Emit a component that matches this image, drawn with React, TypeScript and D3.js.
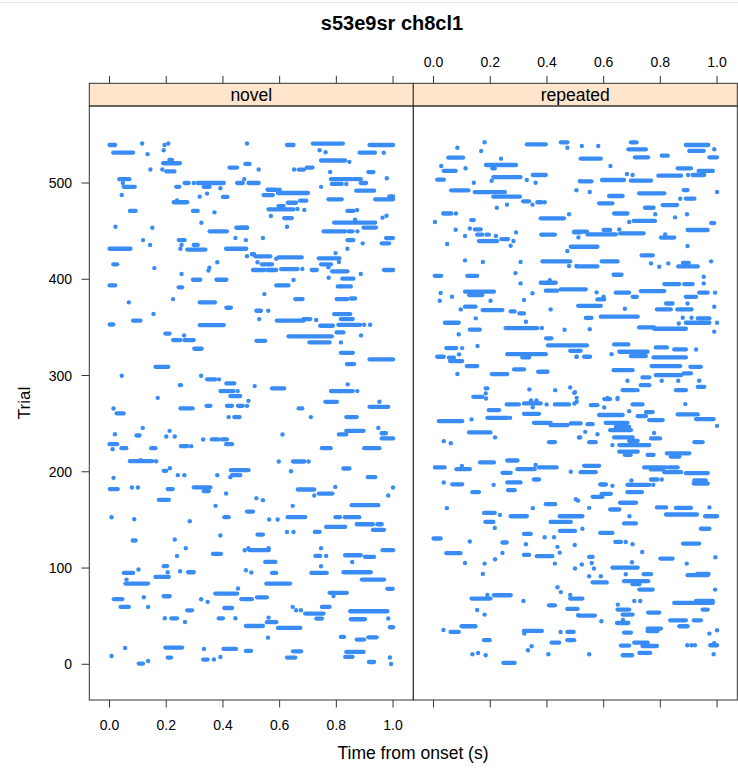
import React from 'react';
import * as d3 from 'd3';

// raster of spike times per trial; each entry is [trial, start, end] in seconds,
// a single spike has start == end, a burst of close spikes is one run
const panelNames = ['novel', 'repeated'];
const timeTicks = [0, 0.2, 0.4, 0.6, 0.8, 1.0];
const trialTicks = [0, 100, 200, 300, 400, 500];

const novelSpikes = [
  [539.5, 0.0, 0.02], [531.5, 0.013, 0.083], [541, 0.115, 0.115], [530, 0.134, 0.134], [539.5, 0.194, 0.194],
  [541, 0.207, 0.207], [534, 0.191, 0.191], [524, 0.211, 0.22], [520.5, 0.189, 0.248], [512, 0.2, 0.229],
  [514, 0.144, 0.144], [514, 0.186, 0.186], [504, 0.034, 0.07], [500, 0.047, 0.047], [496, 0.05, 0.089],
  [487.5, 0.043, 0.043], [471, 0.072, 0.092], [454.6, 0.021, 0.021], [453.5, 0.151, 0.151], [431.7, 0.0, 0.074],
  [415.5, 0.013, 0.027], [440.7, 0.118, 0.118], [435.6, 0.143, 0.143], [411.6, 0.158, 0.158], [393.6, 0.0, 0.02],
  [376, 0.068, 0.068], [357, 0.083, 0.109], [364, 0.155, 0.155], [353, 0.001, 0.013], [343.6, 0.197, 0.212],
  [336.8, 0.224, 0.25], [341.7, 0.263, 0.263], [336.8, 0.264, 0.297], [327.8, 0.299, 0.325], [309, 0.162, 0.207],
  [299.7, 0.043, 0.043], [299.7, 0.323, 0.323], [296, 0.344, 0.373], [296, 0.386, 0.386], [290, 0.248, 0.252],
  [276.8, 0.17, 0.17], [291.8, 0.412, 0.44], [283.8, 0.391, 0.438], [278.6, 0.426, 0.461], [283.8, 0.452, 0.452],
  [496, 0.235, 0.246], [500, 0.265, 0.279], [500, 0.297, 0.297], [500, 0.311, 0.403], [496, 0.332, 0.353],
  [489, 0.344, 0.344], [494.5, 0.391, 0.391], [485.8, 0.318, 0.318], [485.5, 0.4, 0.416], [480, 0.226, 0.274],
  [482, 0.238, 0.238], [471, 0.294, 0.311], [469.5, 0.37, 0.37], [458.7, 0.324, 0.324], [449.8, 0.353, 0.414],
  [453.5, 0.447, 0.485], [442.8, 0.444, 0.444], [440.7, 0.481, 0.481], [440.7, 0.244, 0.265], [435.6, 0.254, 0.254],
  [431.7, 0.25, 0.25], [435.6, 0.297, 0.311], [430.8, 0.274, 0.338], [431.7, 0.411, 0.482], [409, 0.349, 0.349],
  [412, 0.352, 0.352], [417.6, 0.38, 0.38], [405.4, 0.254, 0.254], [399.5, 0.294, 0.32], [399.5, 0.377, 0.412],
  [391.6, 0.244, 0.256], [379.4, 0.224, 0.224], [376, 0.318, 0.372], [370.4, 0.412, 0.428], [352.4, 0.318, 0.403],
  [541, 0.485, 0.485], [516, 0.423, 0.45], [519.8, 0.479, 0.494], [500, 0.45, 0.47], [504, 0.475, 0.475],
  [500, 0.49, 0.526], [424, 0.485, 0.485],
  [539.5, 0.626, 0.649], [541, 0.717, 0.823], [539.5, 0.917, 1.0], [534, 0.741, 0.741], [532, 0.762, 0.762],
  [531.5, 0.882, 0.936], [531.5, 0.967, 0.967], [514, 0.526, 0.526], [514, 0.651, 0.651], [514, 0.667, 0.686],
  [516, 0.696, 0.716], [523.4, 0.746, 0.831], [522, 0.846, 0.846], [511.4, 0.778, 0.778], [511.4, 0.913, 0.931],
  [504, 0.781, 0.854], [504, 0.864, 0.886], [505, 0.978, 0.978], [499, 0.784, 0.819], [499, 0.835, 0.835],
  [500, 0.886, 0.905], [496, 0.746, 0.746], [493, 0.557, 0.588], [493, 0.6, 0.6], [487.5, 0.543, 0.576],
  [489.6, 0.594, 0.7], [492, 0.87, 0.933], [483, 0.772, 0.819], [483, 0.937, 1.0], [486, 0.987, 1.0],
  [479.5, 0.629, 0.658], [481.6, 0.672, 0.694], [472.6, 0.561, 0.649], [476, 0.596, 0.614], [473, 0.663, 0.663],
  [472, 0.687, 0.687], [471, 0.839, 0.86], [472, 0.873, 0.873], [465.7, 0.569, 0.569], [463.6, 0.616, 0.643],
  [454.6, 0.626, 0.626], [458.9, 0.792, 0.937], [462, 0.866, 0.866], [453.7, 0.896, 0.94], [464, 0.963, 0.963],
  [466, 0.977, 0.977], [453.6, 0.461, 0.485], [449.8, 0.755, 0.831], [449.8, 0.843, 0.857], [449.8, 0.874, 0.874],
  [442.8, 0.541, 0.541], [440.7, 0.839, 0.86], [437.3, 0.893, 0.893], [442.8, 0.975, 1.0], [437.3, 0.96, 0.986],
  [431.7, 0.839, 0.839], [427.2, 0.797, 0.797], [426, 0.502, 0.51], [423.8, 0.514, 0.567], [421.3, 0.588, 0.588],
  [422.7, 0.596, 0.678], [421.7, 0.738, 0.811], [417.6, 0.522, 0.522], [415.5, 0.537, 0.573], [415.5, 0.746, 0.781],
  [418, 0.809, 0.809], [409.6, 0.506, 0.546], [409.6, 0.557, 0.588], [410.6, 0.605, 0.663], [410.6, 0.68, 0.68],
  [409.6, 0.713, 0.731], [412.4, 0.772, 0.772], [408.2, 0.785, 0.839], [409.6, 0.968, 1.0], [405.4, 0.886, 0.886],
  [401.6, 0.773, 0.773], [400.6, 0.821, 0.86], [399.2, 0.649, 0.649], [393.6, 0.588, 0.631], [392.6, 0.805, 0.851],
  [384.6, 0.546, 0.546], [379.4, 0.655, 0.681], [379.4, 0.801, 0.839], [380, 0.851, 0.866], [367.3, 0.518, 0.534],
  [367.3, 0.56, 0.56], [363.8, 0.792, 0.849], [358.6, 0.528, 0.528], [357, 0.59, 0.684], [358.6, 0.684, 0.708],
  [357.6, 0.729, 0.729], [358.6, 0.816, 0.858], [351.7, 0.743, 0.788], [352.7, 0.807, 0.884], [352.7, 0.898, 0.898],
  [352.7, 0.919, 0.919], [344.8, 0.801, 0.825], [340.7, 0.631, 0.784], [341.7, 0.887, 0.887], [336, 0.518, 0.549],
  [334.4, 0.705, 0.776], [334.4, 0.816, 0.816], [323.6, 0.816, 0.858], [316.7, 0.917, 1.0], [311.9, 0.837, 0.863],
  [289, 0.512, 0.512], [286.6, 0.573, 0.616], [283.8, 0.781, 0.858], [290.8, 0.84, 0.84], [283.8, 0.874, 0.874],
  [265.8, 0.014, 0.014], [260.6, 0.025, 0.05], [265.8, 0.25, 0.293], [268.5, 0.342, 0.356], [268.5, 0.414, 0.432],
  [268.5, 0.453, 0.47], [268.5, 0.485, 0.485], [273.7, 0.49, 0.49], [256.8, 0.42, 0.42], [256.8, 0.44, 0.459],
  [245.6, 0.117, 0.117], [239, 0.019, 0.019], [237.7, 0.095, 0.106], [242.5, 0.212, 0.212], [236.7, 0.2, 0.2],
  [236.7, 0.23, 0.23], [233.6, 0.33, 0.33], [233.6, 0.361, 0.385], [233.6, 0.397, 0.414], [228.7, 0.411, 0.432],
  [228.7, 0.0, 0.027], [223.5, 0.011, 0.011], [224.5, 0.042, 0.059], [224.5, 0.147, 0.162], [226.6, 0.252, 0.274],
  [226.6, 0.288, 0.288], [211, 0.072, 0.15], [212, 0.11, 0.11], [211, 0.164, 0.164], [201, 0.191, 0.2],
  [203.7, 0.213, 0.213], [196.5, 0.241, 0.241], [196.5, 0.264, 0.264], [201.7, 0.428, 0.49], [196.5, 0.432, 0.461],
  [194.4, 0.426, 0.426], [196.5, 0.38, 0.38], [193.7, 0.014, 0.014], [182, 0.001, 0.029], [183.7, 0.079, 0.079],
  [183.7, 0.1, 0.1], [182, 0.205, 0.223], [183.7, 0.297, 0.356], [179.8, 0.332, 0.35], [177.4, 0.411, 0.411],
  [170.8, 0.174, 0.209], [164.6, 0.374, 0.374], [152.8, 0.007, 0.007], [150.7, 0.087, 0.087], [148.6, 0.283, 0.283],
  [152.8, 0.405, 0.42], [158.7, 0.485, 0.506], [133.8, 0.391, 0.391], [128.6, 0.082, 0.092], [129.7, 0.23, 0.23],
  [120.6, 0.269, 0.269], [112.6, 0.238, 0.238], [114.7, 0.365, 0.393], [118.5, 0.477, 0.477], [118.5, 0.494, 0.561],
  [120.6, 0.49, 0.49], [120.6, 0.561, 0.561], [101.9, 0.191, 0.203], [95.6, 0.205, 0.205], [94.9, 0.05, 0.083],
  [98.4, 0.102, 0.102], [88, 0.06, 0.06], [83.9, 0.056, 0.136], [90.8, 0.162, 0.209], [96.7, 0.249, 0.249],
  [95.6, 0.277, 0.297], [97.7, 0.481, 0.481], [95.3, 0.5, 0.5], [73.5, 0.373, 0.45], [78.7, 0.453, 0.453],
  [67.6, 0.465, 0.502], [67.6, 0.015, 0.045], [69.6, 0.121, 0.121], [70.7, 0.191, 0.212], [67.6, 0.323, 0.323],
  [64.8, 0.346, 0.346], [59.6, 0.039, 0.068], [59.6, 0.136, 0.136], [58.5, 0.405, 0.432], [56.1, 0.274, 0.291],
  [39.8, 0.481, 0.541], [47.8, 0.195, 0.195], [47.8, 0.218, 0.238], [44, 0.266, 0.266], [47.8, 0.385, 0.4],
  [47.8, 0.444, 0.444], [17, 0.055, 0.055], [8.6, 0.007, 0.007], [0.7, 0.103, 0.118], [3.4, 0.136, 0.136],
  [17.4, 0.197, 0.256], [7, 0.205, 0.217], [16, 0.333, 0.333], [4.9, 0.33, 0.346], [4.9, 0.368, 0.368],
  [7.6, 0.391, 0.391], [16, 0.402, 0.446], [13.9, 0.481, 0.499],
  [272.7, 0.761, 0.802], [265.8, 0.667, 0.68], [256.8, 0.71, 0.71], [256.8, 0.835, 0.872], [267.5, 0.917, 0.983],
  [272.7, 0.952, 0.952], [238.8, 0.61, 0.61], [238.8, 0.809, 0.835], [242.5, 0.835, 0.896], [245.6, 0.948, 0.948],
  [234.6, 0.96, 1.0], [240, 0.96, 0.975], [224.5, 0.749, 0.78], [224.5, 0.898, 0.952], [210.7, 0.597, 0.597],
  [210.7, 0.647, 0.687], [210.7, 0.702, 0.702], [200.6, 0.64, 0.64], [203.4, 0.825, 0.846], [194.4, 0.911, 0.937],
  [181.6, 0.664, 0.722], [175.4, 0.722, 0.722], [177.4, 0.738, 0.786], [184.3, 0.796, 0.796], [183.7, 1.0, 1.0],
  [175.4, 0.983, 0.983], [172.6, 0.518, 0.518], [170.5, 0.541, 0.541], [164.6, 0.646, 0.646], [165.3, 0.854, 0.948],
  [150.4, 0.563, 0.563], [150.4, 0.593, 0.593], [152.8, 0.628, 0.69], [152.8, 0.797, 0.813], [152.8, 0.83, 0.881],
  [142.7, 0.764, 0.831], [145.5, 0.872, 0.929], [145.5, 0.945, 0.96], [139.6, 0.929, 0.968], [137.5, 0.626, 0.626],
  [137.5, 0.649, 0.649], [137.5, 0.724, 0.741], [134.8, 0.522, 0.541], [120.6, 0.746, 0.746], [112.6, 0.726, 0.743],
  [112.6, 0.764, 0.764], [113.3, 0.831, 0.886], [111.5, 0.901, 0.933], [106.3, 0.856, 0.856], [118.5, 0.963, 1.0],
  [106.3, 0.549, 0.585], [94.9, 0.573, 0.588], [94.9, 0.712, 0.766], [101.9, 0.746, 0.746], [95.6, 0.825, 0.921],
  [88, 0.89, 0.968], [83.9, 0.553, 0.637], [78.4, 0.98, 0.999], [69.6, 0.52, 0.555], [74.2, 0.776, 0.837],
  [71, 0.79, 0.79], [59.6, 0.646, 0.646], [56.1, 0.658, 0.658], [56.1, 0.675, 0.675], [59.6, 0.749, 0.776],
  [52.7, 0.69, 0.755], [47.5, 0.729, 0.749], [55.1, 0.849, 0.98], [46.8, 0.851, 0.901], [47.5, 0.983, 0.983],
  [43.7, 0.555, 0.588], [48.5, 0.561, 0.561], [37.8, 0.594, 0.673], [38.5, 0.989, 1.0], [27.7, 0.559, 0.559],
  [28.4, 0.816, 0.827], [25.7, 0.872, 0.898], [28, 0.913, 0.942], [13.5, 0.647, 0.676], [7, 0.626, 0.655],
  [12.8, 0.835, 0.896], [7.6, 0.831, 0.857], [2.4, 0.915, 0.933], [7, 0.989, 0.989], [0.3, 0.993, 0.993],
];

const repeatedSpikes = [
  [536.7, 0.084, 0.084], [542.3, 0.18, 0.18], [533.3, 0.168, 0.168], [540.2, 0.329, 0.396], [542.3, 0.449, 0.472],
  [536.7, 0.472, 0.472], [526.3, 0.052, 0.104], [525.3, 0.238, 0.238], [517.7, 0.027, 0.027], [512.5, 0.036, 0.078],
  [515.3, 0.113, 0.113], [518.7, 0.185, 0.291], [515.3, 0.207, 0.216], [506.2, 0.211, 0.307], [503.1, 0.329, 0.329],
  [508.3, 0.35, 0.396], [500.3, 0.36, 0.36], [503.5, 0.013, 0.036], [500.3, 0.142, 0.142], [502.4, 0.205, 0.205],
  [492.4, 0.062, 0.123], [490.6, 0.145, 0.252], [485.8, 0.211, 0.305], [474.3, 0.223, 0.223], [477.5, 0.259, 0.259],
  [481, 0.316, 0.337], [477.5, 0.349, 0.349], [480, 0.366, 0.38], [480, 0.392, 0.392], [492.4, 0.504, 0.504],
  [502, 0.516, 0.516], [468.3, 0.034, 0.063], [468.3, 0.079, 0.079], [459.5, 0.005, 0.005], [461.5, 0.133, 0.142],
  [452.8, 0.128, 0.128], [451.4, 0.078, 0.078], [451.8, 0.146, 0.166], [446.3, 0.154, 0.172], [446.3, 0.187, 0.195],
  [444.9, 0.111, 0.111], [439.7, 0.16, 0.225], [444.9, 0.22, 0.22], [441.8, 0.239, 0.263], [439.7, 0.282, 0.282],
  [434.8, 0.272, 0.272], [448.7, 0.291, 0.291], [436.6, 0.048, 0.048], [463.3, 0.378, 0.46], [467.5, 0.478, 0.478],
  [446.3, 0.38, 0.428], [448.7, 0.496, 0.519], [443.5, 0.511, 0.511], [433.8, 0.484, 0.578], [429.3, 0.472, 0.472],
  [419.6, 0.111, 0.111], [417.9, 0.174, 0.174], [417.9, 0.307, 0.307], [418.6, 0.384, 0.482], [413.7, 0.478, 0.478],
  [413.7, 0.504, 0.504], [406.4, 0.289, 0.289], [403.6, 0.004, 0.027], [403.6, 0.119, 0.154], [395.7, 0.307, 0.307],
  [396.4, 0.378, 0.431], [399, 0.41, 0.41], [388.1, 0.396, 0.437], [389.5, 0.449, 0.537], [385.4, 0.349, 0.349],
  [387.1, 0.111, 0.213], [383.6, 0.125, 0.172], [385.7, 0.025, 0.025], [377.7, 0.022, 0.022], [381.8, 0.065, 0.065],
  [377.7, 0.201, 0.201], [378.4, 0.319, 0.319], [371.5, 0.111, 0.148], [368.7, 0.096, 0.096], [368, 0.173, 0.243],
  [366.6, 0.272, 0.286], [364.5, 0.303, 0.319], [368.7, 0.413, 0.413], [359.4, 0.149, 0.149], [355.9, 0.326, 0.326],
  [354.8, 0.04, 0.089], [342.8, 0.089, 0.089], [347.6, 0.128, 0.163], [349.3, 0.254, 0.366], [349.3, 0.382, 0.382],
  [347.6, 0.462, 0.462], [338.6, 0.397, 0.416], [331.3, 0.404, 0.541], [325.7, 0.482, 0.519], [319.5, 0.504, 0.504],
  [328.5, 0.045, 0.08], [328.5, 0.101, 0.101], [330.6, 0.155, 0.155], [319.5, 0.013, 0.036], [318.5, 0.054, 0.072],
  [315, 0.058, 0.101], [322, 0.09, 0.09], [309.8, 0.117, 0.154], [301.5, 0.084, 0.084], [322.2, 0.26, 0.396],
  [318.8, 0.313, 0.337], [306.3, 0.284, 0.319], [301.5, 0.205, 0.26], [303.9, 0.369, 0.402], [277.9, 0.14, 0.172],
  [286.6, 0.184, 0.19], [281.4, 0.184, 0.184], [276.2, 0.185, 0.185], [285.6, 0.338, 0.338], [284.8, 0.429, 0.429],
  [287.6, 0.482, 0.482], [282.7, 0.499, 0.499],
  [538.5, 0.523, 0.523], [538.5, 0.581, 0.581], [542.3, 0.696, 0.716], [535, 0.687, 0.749], [539.5, 0.89, 0.969],
  [533.3, 0.902, 0.953], [535, 0.99, 0.99], [525.3, 0.519, 0.59], [526.7, 0.71, 0.757], [528.4, 0.805, 0.826],
  [526.7, 0.973, 1.0], [517.7, 0.624, 0.624], [509.4, 0.682, 0.682], [508.3, 0.702, 0.702], [507.6, 0.793, 0.873],
  [515.3, 0.861, 0.908], [508.3, 0.914, 0.955], [512.5, 0.935, 0.985], [508.3, 0.898, 0.898], [501.7, 0.517, 0.557],
  [503.1, 0.594, 0.672], [502.4, 0.696, 0.767], [490.6, 0.551, 0.551], [489.3, 0.725, 0.814], [492.7, 0.882, 0.896],
  [490.6, 1.0, 1.0], [486.5, 0.619, 0.667], [478.9, 0.584, 0.631], [483.7, 0.89, 0.92], [483.7, 0.87, 0.87],
  [474.3, 0.746, 0.776], [477.1, 0.808, 0.859], [467.5, 0.782, 0.782], [464.3, 0.852, 0.852], [467.5, 0.894, 0.894],
  [468.3, 0.637, 0.684], [460.6, 0.706, 0.781], [459.5, 0.69, 0.69], [458.4, 0.979, 0.99], [449.5, 0.496, 0.541],
  [446.6, 0.543, 0.643], [451.2, 0.6, 0.623], [451.8, 0.655, 0.655], [447.7, 0.658, 0.741], [451.2, 0.896, 0.967],
  [443.3, 0.802, 0.849], [446.6, 0.817, 0.817], [434.5, 0.896, 0.896], [424.8, 0.734, 0.773], [416.5, 0.767, 0.767],
  [413, 0.796, 0.796], [416.5, 0.828, 0.828], [413.3, 0.505, 0.578], [418.5, 0.593, 0.649], [413.3, 0.863, 0.932],
  [417, 0.88, 0.9], [418.6, 0.979, 0.979], [404.7, 0.635, 0.663], [402.6, 0.953, 0.953], [395.7, 0.953, 0.953],
  [395, 0.814, 0.867], [395, 0.884, 0.914], [386.4, 0.575, 0.575], [386.1, 0.643, 0.69], [387.7, 0.731, 0.814],
  [381.8, 0.89, 0.926], [386.1, 0.937, 0.967], [386.1, 0.993, 0.993], [379.1, 0.578, 0.602], [382, 0.6, 0.6],
  [381.8, 0.702, 0.717], [372.4, 0.51, 0.59], [374.8, 0.82, 0.843], [374.8, 0.896, 0.896], [369.4, 0.675, 0.675],
  [368.7, 0.788, 0.837], [368.7, 0.86, 0.86], [368.7, 0.867, 0.91], [371.5, 0.99, 0.99], [359.8, 0.537, 0.557],
  [361.1, 0.59, 0.72], [354.8, 0.89, 0.973], [359.4, 0.932, 0.973], [360, 0.879, 0.879], [360, 0.91, 0.91],
  [354.8, 1.0, 1.0], [354.1, 0.865, 0.865], [350, 0.725, 0.778], [348.6, 0.778, 0.89], [348, 0.551, 0.551],
  [345.6, 0.99, 0.99], [332.3, 0.637, 0.687], [324.7, 0.655, 0.755], [320.2, 0.696, 0.749], [329.2, 0.784, 0.823],
  [327.1, 0.849, 0.89], [327.1, 0.926, 0.926], [318.8, 0.776, 0.89], [322.2, 0.628, 0.628], [319.5, 0.505, 0.505],
  [319.5, 0.531, 0.552], [305.6, 0.635, 0.702], [309.8, 0.769, 0.87], [309, 0.906, 0.943], [302.2, 0.882, 0.908],
  [300.4, 0.784, 0.873], [298, 0.737, 0.761], [294.5, 0.684, 0.684], [294.5, 0.805, 0.805], [294.5, 0.863, 0.863],
  [294.5, 0.937, 0.937], [290, 0.731, 0.761], [284.8, 0.667, 0.708], [284.8, 0.719, 0.719], [284.8, 0.855, 0.89],
  [288.3, 0.932, 0.955], [282, 0.496, 0.496], [276.8, 0.505, 0.505], [276.8, 0.614, 0.614], [276.8, 0.649, 0.649],
  [270, 0.258, 0.301], [271, 0.319, 0.378], [274, 0.344, 0.344], [274, 0.363, 0.363], [267, 0.35, 0.35],
  [270, 0.399, 0.399], [270, 0.428, 0.478], [271, 0.497, 0.497], [264, 0.195, 0.231], [252.6, 0.019, 0.101],
  [254.4, 0.134, 0.134], [256, 0.19, 0.26], [256, 0.27, 0.27], [260.2, 0.319, 0.372], [250.9, 0.354, 0.413],
  [248.4, 0.413, 0.472], [250.2, 0.484, 0.519], [240.9, 0.125, 0.201], [235.7, 0.217, 0.217], [231.8, 0.036, 0.036],
  [229.7, 0.061, 0.061], [230.8, 0.407, 0.428], [235.7, 0.513, 0.513], [204.5, 0.005, 0.039], [202.7, 0.081, 0.128],
  [206, 0.1, 0.1], [209.7, 0.164, 0.213], [211.7, 0.26, 0.296], [198.9, 0.243, 0.272], [202.7, 0.296, 0.357],
  [207, 0.36, 0.36], [204.5, 0.372, 0.434], [200, 0.484, 0.484], [192, 0.354, 0.372], [188.9, 0.036, 0.036],
  [187, 0.066, 0.101], [188.9, 0.26, 0.307], [180.9, 0.263, 0.286], [186.4, 0.212, 0.212], [178.8, 0.137, 0.16],
  [162.2, 0.047, 0.047], [157.3, 0.178, 0.216], [155.2, 0.234, 0.234], [147.9, 0.183, 0.211], [141.7, 0.216, 0.216],
  [153.8, 0.272, 0.329], [162.2, 0.35, 0.35], [166.3, 0.396, 0.429], [153.8, 0.445, 0.525], [147.9, 0.413, 0.484],
  [138.6, 0.446, 0.499], [135.4, 0.319, 0.343], [132, 0.392, 0.392], [132, 0.425, 0.425], [130.7, 0.0, 0.025],
  [127.5, 0.128, 0.128], [126.5, 0.243, 0.258], [124.7, 0.326, 0.326], [122, 0.437, 0.437], [116, 0.445, 0.445],
  [124, 0.498, 0.498], [115.4, 0.045, 0.095], [115.7, 0.243, 0.243], [113.6, 0.319, 0.337], [112.3, 0.364, 0.419],
  [104.6, 0.428, 0.428], [105.3, 0.111, 0.111], [104.6, 0.18, 0.18], [109.1, 0.217, 0.217], [93.9, 0.174, 0.174],
  [99.5, 0.499, 0.499], [80, 0.437, 0.437], [75, 0.449, 0.449], [68.3, 0.134, 0.201], [72, 0.19, 0.19],
  [71.7, 0.213, 0.272], [65.8, 0.317, 0.317], [61.3, 0.407, 0.428], [68.3, 0.482, 0.525], [72, 0.482, 0.482],
  [57.5, 0.472, 0.508], [56.4, 0.154, 0.154], [51.6, 0.18, 0.18], [51, 0.51, 0.51], [35.7, 0.035, 0.035],
  [33.6, 0.06, 0.089], [39.5, 0.099, 0.148], [34.7, 0.319, 0.382], [32, 0.32, 0.32], [33.6, 0.448, 0.448],
  [33.6, 0.472, 0.494], [25, 0.472, 0.496], [25, 0.178, 0.198], [22.5, 0.416, 0.443], [14.6, 0.333, 0.333],
  [18.7, 0.346, 0.346], [10.4, 0.137, 0.137], [11.8, 0.157, 0.157], [9.4, 0.184, 0.184], [10.4, 0.405, 0.405],
  [1.4, 0.246, 0.286],
  [272.7, 0.505, 0.505], [275.5, 0.602, 0.623], [275.5, 0.649, 0.649], [269.2, 0.555, 0.578], [266.8, 0.602, 0.602],
  [270, 0.702, 0.737], [270.3, 0.888, 0.888], [262, 0.749, 0.773], [259, 0.584, 0.667], [263, 0.69, 0.69],
  [257.8, 0.72, 0.749], [253.6, 0.761, 0.808], [259.6, 0.861, 0.932], [254.7, 0.926, 0.988], [247.7, 1.0, 1.0],
  [249.5, 0.543, 0.561], [239, 0.578, 0.578], [250.9, 0.607, 0.684], [243.2, 0.623, 0.696], [246.7, 0.643, 0.69],
  [241.5, 0.535, 0.535], [235.7, 0.517, 0.517], [240.4, 0.778, 0.778], [234.6, 0.767, 0.799], [235.7, 0.637, 0.702],
  [230.8, 0.549, 0.572], [227.7, 0.655, 0.761], [232, 0.69, 0.72], [227.7, 0.631, 0.631], [230.8, 0.92, 0.949],
  [220.9, 0.655, 0.72], [217.5, 0.675, 0.695], [219.2, 0.823, 0.902], [215.7, 0.837, 0.867], [217.5, 0.755, 0.776],
  [206.2, 0.531, 0.584], [199.6, 0.519, 0.572], [204.5, 0.743, 0.82], [202.4, 0.767, 0.808], [204.5, 0.831, 0.861],
  [199.6, 0.814, 0.873], [198.5, 0.89, 0.967], [187.8, 0.918, 0.967], [191, 0.92, 0.96], [192, 0.767, 0.79],
  [192, 0.805, 0.805], [186.4, 0.684, 0.761], [191, 0.698, 0.698], [186.4, 0.775, 0.775], [186.8, 0.588, 0.608],
  [185.4, 0.631, 0.631], [178.8, 0.684, 0.735], [174, 0.561, 0.596], [177.1, 0.593, 0.625], [171.5, 0.502, 0.502],
  [167.8, 0.658, 0.714], [170, 0.51, 0.51], [162.5, 0.549, 0.549], [160.8, 0.623, 0.655], [163, 0.788, 0.82],
  [162.5, 0.855, 0.908], [163, 0.973, 0.973], [155.6, 0.82, 0.929], [153.8, 0.958, 1.0], [153.8, 0.691, 0.691],
  [146.3, 0.672, 0.714], [140.8, 0.525, 0.525], [136.5, 0.588, 0.631], [140.8, 0.943, 0.973], [127.1, 0.641, 0.661],
  [127.1, 0.678, 0.678], [124.7, 0.702, 0.702], [116.6, 0.736, 0.736], [125.4, 0.88, 0.937], [109.8, 0.8, 0.843],
  [111.2, 0.994, 0.994], [104.6, 0.893, 0.893], [103.6, 0.523, 0.523], [105.3, 0.558, 0.558], [99.5, 0.566, 0.566],
  [111.5, 0.549, 0.561], [100.5, 0.631, 0.72], [106, 0.7, 0.7], [91.5, 0.549, 0.549], [91.5, 0.59, 0.59],
  [85, 0.561, 0.611], [93.6, 0.741, 0.767], [93.6, 0.678, 0.678], [86.3, 0.672, 0.757], [83.2, 0.702, 0.726],
  [77.6, 0.726, 0.773], [92.6, 0.896, 0.967], [94, 0.93, 0.97], [77.6, 0.993, 0.993], [65.8, 0.708, 0.708],
  [65.8, 0.729, 0.729], [63.7, 0.849, 0.985], [65.8, 0.926, 0.985], [56.8, 0.649, 0.69], [62, 0.65, 0.65],
  [56.8, 0.949, 0.967], [50.6, 0.513, 0.569], [51.6, 0.667, 0.702], [53.7, 0.757, 0.796], [44.7, 0.592, 0.592],
  [42.9, 0.647, 0.687], [46, 0.668, 0.668], [45.7, 0.835, 0.89], [45.7, 0.918, 0.943], [39.5, 0.867, 0.896],
  [37.1, 0.755, 0.802], [34.5, 0.755, 0.79], [32.9, 0.672, 0.696], [22.5, 0.708, 0.755], [19, 0.737, 0.788],
  [19.4, 0.661, 0.69], [19.8, 0.895, 0.895], [19.8, 0.91, 0.91], [19.8, 0.922, 0.922], [35.3, 1.0, 1.0],
  [31.9, 0.973, 0.973], [19.8, 0.976, 1.0], [22, 0.99, 0.99], [10.4, 0.549, 0.549], [9.4, 0.667, 0.696],
  [9.4, 0.7, 0.7], [11.8, 0.726, 0.764], [10.4, 0.988, 0.988],
];

const panelData = [novelSpikes, repeatedSpikes];

const W = 738;
const H = 768;
const FONT = '"Liberation Sans", Arial, Helvetica, sans-serif';
const DOT = '#3a8cf5';
const AXIS = '#333';

// panel geometry
const panelLeft = 89.3;
const panelW = 324;
const stripTop = 83.3;
const panelTop = 106;
const panelBottom = 700;

const y = d3.scaleLinear().domain([-37.1, 580]).range([panelBottom, panelTop]);
const fmt = d3.format('.1f');

function Panel({ idx, data, name }: { idx: number; data: number[][]; name: string }) {
  const x0 = panelLeft + idx * panelW;
  const x = d3.scaleLinear().domain([-0.0714, 1.0714]).range([x0, x0 + panelW]);
  return (
    <g>
      <g>
        {data.map((d, i) =>
          d[1] === d[2] ? (
            <circle key={i} cx={x(d[1])} cy={y(d[0])} r={2.2} fill={DOT} />
          ) : (
            <line key={i} x1={x(d[1])} x2={x(d[2])} y1={y(d[0])} y2={y(d[0])}
              stroke={DOT} strokeWidth={4.3} strokeLinecap="round" />
          )
        )}
      </g>
      <rect x={x0} y={stripTop} width={panelW} height={panelTop - stripTop} fill="#ffe5cc" stroke={AXIS} strokeWidth={1} />
      <text x={x0 + panelW / 2} y={101} textAnchor="middle" fontSize={17.5} fill="#000">{name}</text>
      <rect x={x0} y={panelTop} width={panelW} height={panelBottom - panelTop} fill="none" stroke={AXIS} strokeWidth={1} />
      {/* top ticks, labels only above the right panel */}
      {timeTicks.map((t) => (
        <g key={'t' + t}>
          <line x1={x(t)} x2={x(t)} y1={stripTop} y2={stripTop - 7.5} stroke={AXIS} />
          {idx === 1 && <text x={x(t)} y={67} textAnchor="middle" fontSize={14}>{fmt(t)}</text>}
        </g>
      ))}
      {/* bottom ticks, labels only under the left panel */}
      {timeTicks.map((t) => (
        <g key={'b' + t}>
          <line x1={x(t)} x2={x(t)} y1={panelBottom} y2={panelBottom + 7.5} stroke={AXIS} />
          {idx === 0 && <text x={x(t)} y={730} textAnchor="middle" fontSize={14}>{fmt(t)}</text>}
        </g>
      ))}
    </g>
  );
}

export default function App() {
  return (
    <svg width={W} height={H} style={{ position: 'absolute', left: 0, top: 0, background: '#fff' }} fontFamily={FONT}>
      <rect width={W} height={H} fill="#fff" />
      <line x1={0} x2={W} y1={2.5} y2={2.5} stroke="#e4e4e4" strokeWidth={1.2} />
      <text x={392} y={29.5} textAnchor="middle" fontSize={20} fontWeight="bold">s53e9sr ch8cl1</text>
      {panelNames.map((n, i) => (
        <Panel key={n} idx={i} data={panelData[i]} name={n} />
      ))}
      {trialTicks.map((v) => (
        <g key={v}>
          <line x1={panelLeft} x2={panelLeft - 7.8} y1={y(v)} y2={y(v)} stroke={AXIS} />
          <text x={72} y={y(v)} dy="0.36em" textAnchor="end" fontSize={14}>{v}</text>
        </g>
      ))}
      <text transform={`translate(30,403) rotate(-90)`} textAnchor="middle" fontSize={17}>Trial</text>
      <text x={413} y={759} textAnchor="middle" fontSize={17.5}>Time from onset (s)</text>
    </svg>
  );
}
